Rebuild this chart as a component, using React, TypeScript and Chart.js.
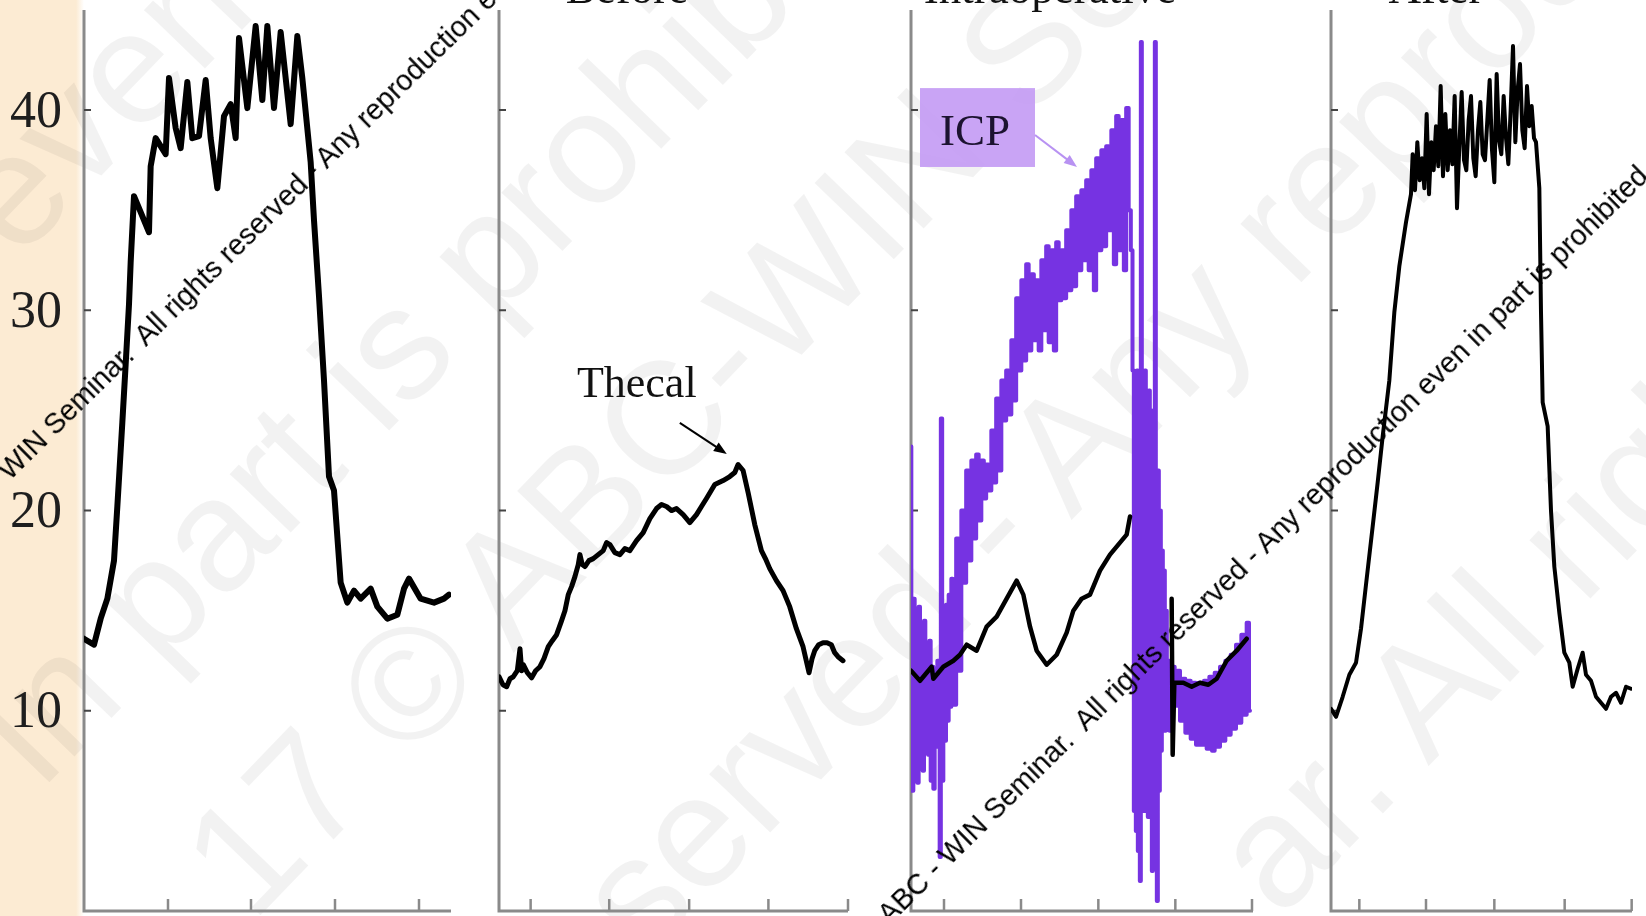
import React, { useEffect, useRef } from "react";
import { Chart, registerables } from "chart.js";

Chart.register(...registerables);

type Pt = [number, number | null];

// ---------- shared axis data ----------
const Y_MIN = 0;
const Y_MAX = 45;
const Y_TICKS = [10, 20, 30, 40];
const Y_TICK_LABELS = ["10", "20", "30", "40"];
const PANEL_TITLES = ["", "Before", "Intraoperative", "After"];

// x tick positions (time samples) for each panel
const X_TICKS_P1 = [252, 501, 753, 1005];
const X_TICKS_P2 = [95, 331, 571, 809, 1048];
const X_TICKS_P3 = [99, 330, 562, 793, 1023];
const X_TICKS_P4 = [85, 285, 490, 701, 902];
const X_MAX = [1101, 1048, 1026, 903];

// ---------- series (time sample, pressure) ----------
const pressurePanel1: Pt[] = [
  [0, 13.6], [30, 13.3], [50, 14.6], [70, 15.6], [90, 17.5], [100, 20.2], [115, 24.4], [125, 27.3],
  [135, 30.3], [140, 32.4], [150, 35.7], [165, 35.1], [195, 33.9], [200, 37.2], [215, 38.6], [245, 37.8],
  [255, 41.6], [275, 39.1], [290, 38.1], [310, 41.4], [325, 38.6], [345, 38.7], [365, 41.5], [380, 38.6],
  [400, 36.1], [420, 39.7], [440, 40.3], [455, 38.6], [465, 43.6], [490, 40.1], [515, 44.2], [535, 40.5],
  [550, 44.2], [570, 40.1], [590, 43.9], [620, 39.3], [640, 43.7], [655, 41.6], [680, 37.4], [690, 34.5],
  [705, 30.7], [720, 26.5], [735, 21.7], [750, 21.0], [770, 16.4], [790, 15.4], [810, 16.0], [830, 15.6],
  [860, 16.1], [880, 15.2], [910, 14.6], [940, 14.8], [960, 16.1], [975, 16.6], [1010, 15.6], [1050, 15.4],
  [1080, 15.6], [1095, 15.8],
];

const thecalBefore: Pt[] = [
  [0, 11.7], [12, 11.3], [23, 11.2], [33, 11.6], [43, 11.7], [55, 12.0], [63, 13.1], [68, 12.0], [73, 12.3],
  [85, 11.9], [98, 11.65], [110, 12.0], [123, 12.2], [135, 12.6], [148, 13.2], [160, 13.5], [173, 13.8],
  [188, 14.5], [198, 15.0], [208, 15.8], [218, 16.2], [228, 16.7], [238, 17.3], [243, 17.8], [250, 17.3],
  [258, 17.2], [270, 17.5], [283, 17.6], [298, 17.8], [313, 18.0], [323, 18.4], [333, 18.3], [348, 17.9],
  [363, 17.8], [378, 18.1], [393, 18.0], [413, 18.5], [433, 18.9], [453, 19.6], [473, 20.1], [488, 20.3],
  [503, 20.2], [518, 20.0], [533, 20.1], [553, 19.8], [573, 19.4], [593, 19.8], [608, 20.2], [623, 20.6],
  [648, 21.3], [673, 21.5], [693, 21.7], [708, 21.9], [718, 22.3], [733, 22.0], [748, 20.9], [768, 19.3],
  [788, 18.0], [800, 17.6], [813, 17.1], [833, 16.5], [853, 16.0], [873, 15.2], [893, 14.1], [913, 13.2],
  [931, 11.9], [940, 12.6], [948, 13.0], [960, 13.3], [973, 13.4], [985, 13.4], [998, 13.3], [1008, 12.9],
  [1018, 12.7], [1033, 12.5],
];

const thecalIntraop: Pt[] = [
  [0, 12.0], [27, 11.5], [62, 12.2], [67, 11.6], [97, 12.2], [127, 12.5], [147, 12.8], [167, 13.3],
  [197, 13.0], [227, 14.2], [257, 14.7], [287, 15.6], [317, 16.5], [337, 15.8], [357, 14.2], [377, 13.0],
  [407, 12.3], [437, 12.8], [467, 13.9], [487, 15.0], [512, 15.6], [537, 15.8], [567, 17.0], [597, 17.8],
  [627, 18.4], [647, 18.8], [657, 19.7], [667, null], [780, null], [782, 15.6], [785, 7.8], [790, 11.4],
  [817, 11.4], [842, 11.2], [867, 11.4], [892, 11.3], [917, 11.6], [947, 12.5], [977, 13.0], [1007, 13.6],
];

const icpIntraop: Pt[] = [
  [0, 23.2], [2, 9], [5, 6], [9, 15.6], [13, 7.5], [17, 14.8], [21, 6.4], [25, 15.2], [29, 8], [33, 13.9],
  [37, 7], [41, 14.5], [45, 9.5], [49, 12.8], [53, 7.8], [57, 13.5], [61, 6.5], [65, 12.2], [69, 6.1],
  [73, 11.8], [77, 8.2], [81, 12.5], [85, 9], [87, 2.7], [92, 24.6], [95, 6.5], [99, 14.2], [103, 8.5],
  [107, 15.3], [111, 9.5], [115, 15.8], [119, 10.2], [123, 16.6], [127, 11],
  [132, 10.3], [139, 18.6], [147, 12], [155, 20], [162, 16.4], [169, 22], [177, 17.5], [185, 22.5],
  [192, 18.6], [199, 22.8], [207, 19.5], [215, 22.5], [222, 20.6], [229, 22.3], [237, 21], [245, 24],
  [252, 21.4], [259, 25.6], [267, 22], [275, 26.5], [282, 24.5], [289, 27], [297, 24.8], [305, 28.5],
  [312, 25.5], [319, 30.6], [327, 27], [335, 31.5], [342, 27.5], [349, 32.3], [357, 28], [365, 31.8],
  [372, 28.5], [379, 31.5], [387, 28], [395, 32.5], [402, 29], [409, 33.2], [417, 28.4], [425, 33],
  [432, 28], [439, 33.4], [447, 30.5], [455, 33], [462, 30.6], [469, 34], [477, 31], [485, 35],
  [492, 31.2], [499, 35.7], [507, 32], [515, 36], [522, 32.5], [529, 36.5], [537, 32], [545, 37],
  [552, 31], [559, 37.6], [567, 33], [575, 38], [582, 33.2], [589, 38.2], [597, 34], [605, 39],
  [612, 32.3], [619, 39.7], [627, 33], [635, 39.5], [642, 32], [649, 40.1], [657, 35], [662, 33],
  [667, 27], [670, 5], [673, 26], [676, 4], [679, 27], [682, 3], [685, 25], [688, 1.5], [691, 43.4],
  [694, 5], [697, 26], [700, 6], [703, 27], [706, 5], [709, 25], [712, 4.7], [715, 26], [718, 6],
  [721, 24], [724, 2], [727, 25], [730, 6], [733, 43.4], [736, 3], [739, 0.5], [742, 22], [745, 6],
  [748, 20], [751, 8], [754, 18], [757, 9], [760, 17], [763, 9], [766, 15], [769, 10],
  [772, 12.5], [779, 9], [787, 12.2], [795, 10.25], [803, 12], [811, 9.5], [819, 11.6], [827, 8.9],
  [835, 11.5], [843, 8.6], [851, 11.4], [859, 8.3], [867, 11.4], [875, 8.3], [883, 11.5], [891, 8.1],
  [899, 11.7], [907, 8.0], [915, 11.9], [923, 8.2], [931, 12.2], [939, 8.5], [947, 12.5], [955, 8.8],
  [963, 12.8], [971, 9.1], [979, 13.3], [987, 9.4], [995, 13.8], [1003, 9.8], [1011, 14.4], [1017, 10],
];

const pressureAfter: Pt[] = [
  [0, 10.1], [15, 9.7], [35, 10.7], [55, 11.8], [75, 12.4], [90, 14.1], [105, 16.3], [125, 19.2],
  [140, 21.4], [155, 23.7], [175, 26.5], [190, 29.9], [205, 32.2], [225, 34.4], [240, 35.8],
  [245, 37.8], [252, 36.0], [259, 38.4], [266, 36.5], [273, 37.6], [280, 36.1], [287, 39.8], [294, 35.8],
  [301, 38.4], [308, 37.0], [315, 39.2], [322, 37.2], [329, 41.2], [336, 36.7], [343, 39.8], [350, 37.0],
  [357, 39.0], [364, 37.3], [371, 40.7], [378, 35.1], [385, 38.2], [392, 40.9], [399, 37.5], [406, 37.0],
  [413, 39.5], [420, 40.7], [427, 37.6], [434, 36.7], [441, 39.0], [448, 40.4], [455, 37.8], [462, 37.5],
  [469, 39.5], [476, 41.5], [483, 38.0], [490, 36.4], [497, 41.8], [504, 38.5], [511, 37.8], [518, 40.7],
  [525, 38.6], [532, 37.3], [539, 40.0], [546, 43.2], [553, 38.4], [560, 41.0], [567, 42.3], [574, 39.0],
  [581, 38.1], [588, 41.2], [595, 39.2], [602, 40.2], [609, 38.6], [615, 38.4],
  [625, 36.1], [630, 29.9], [635, 25.4], [650, 24.2], [660, 20.0], [670, 17.2], [685, 14.9], [700, 12.9],
  [715, 12.4], [725, 11.2], [740, 12.1], [755, 12.9], [765, 11.8], [780, 11.5], [795, 10.7], [810, 10.4],
  [825, 10.1], [840, 10.7], [855, 10.9], [870, 10.4], [885, 11.2], [900, 11.1],
];

// ---------- annotation content ----------
const THECAL_LABEL = "Thecal";
const ICP_LABEL = "ICP";
const WATERMARK = "ABC - WIN Seminar.  All rights reserved - Any reproduction even in part is prohibited";
const BIG_WATERMARK_LINES = [
  "even in part is prohibited",
  "in part is prohibited",
  "17 © ABC-WIN Seminar. All rights reserved",
  "served - Any reproduction even in part",
  "ar. All rights reserved - Any",
];

// ---------- layout / style ----------
const PAGE_W = 1646;
const PAGE_H = 916;
const AREA_TOP = 10;
const AREA_BOTTOM = 911;
const SERIF = "'Liberation Serif', 'Times New Roman', serif";
const BLACK = "#000000";
const PURPLE = "#7633e2";
const BIG_WM_STARTS = [
  { x: 18, y: 262 },
  { x: 42, y: 790 },
  { x: 252, y: 924 },
  { x: 645, y: 962 },
  { x: 1280, y: 920 },
];

type Series = { data: Pt[]; color: string; width: number; stepped?: boolean };
type Annot =
  | { kind: "text"; text: string; x: number; y: number; size: number; color: string }
  | { kind: "arrow"; x1: number; y1: number; x2: number; y2: number; color: string; width: number }
  | { kind: "box"; x1: number; y1: number; x2: number; y2: number; color: string };

type PanelCfg = {
  left: number;
  right: number;
  xMax: number;
  xTicks: number[];
  series: Series[];
  yLabels: boolean;
  title: string;
  titleCenter: number;
  annotations: Annot[];
};

const PANELS: PanelCfg[] = [
  {
    left: 84, right: 451, xMax: X_MAX[0], xTicks: X_TICKS_P1,
    series: [{ data: pressurePanel1, color: BLACK, width: 6 }],
    yLabels: true, title: PANEL_TITLES[0], titleCenter: 0, annotations: [],
  },
  {
    left: 499, right: 848, xMax: X_MAX[1], xTicks: X_TICKS_P2,
    series: [{ data: thecalBefore, color: BLACK, width: 5 }],
    yLabels: false, title: PANEL_TITLES[1], titleCenter: 627,
    annotations: [
      { kind: "text", text: THECAL_LABEL, x: 234, y: 25.67, size: 44, color: "#111" },
      { kind: "arrow", x1: 543, y1: 24.38, x2: 684, y2: 22.83, color: "#000", width: 2 },
    ],
  },
  {
    left: 911, right: 1253, xMax: X_MAX[2], xTicks: X_TICKS_P3,
    series: [
      { data: thecalIntraop, color: BLACK, width: 4.5 },
      { data: icpIntraop, color: PURPLE, width: 4, stepped: true },
    ],
    yLabels: false, title: PANEL_TITLES[2], titleCenter: 1050,
    annotations: [
      { kind: "box", x1: 27, y1: 41.1, x2: 372, y2: 37.16, color: "rgba(196,156,244,0.92)" },
      { kind: "text", text: ICP_LABEL, x: 87, y: 38.26, size: 45, color: "#1c1330" },
      { kind: "arrow", x1: 372, y1: 38.76, x2: 498, y2: 37.16, color: "#b892f2", width: 2 },
    ],
  },
  {
    left: 1331, right: 1632, xMax: X_MAX[3], xTicks: X_TICKS_P4,
    series: [{ data: pressureAfter, color: BLACK, width: 4 }],
    yLabels: false, title: PANEL_TITLES[3], titleCenter: 1436, annotations: [],
  },
];

function drawArrow(ctx: CanvasRenderingContext2D, x1: number, y1: number, x2: number, y2: number, color: string, width: number) {
  const ang = Math.atan2(y2 - y1, x2 - x1);
  const head = 13;
  const hw = 5;
  ctx.strokeStyle = color;
  ctx.fillStyle = color;
  ctx.lineWidth = width;
  ctx.beginPath();
  ctx.moveTo(x1, y1);
  ctx.lineTo(x2 - Math.cos(ang) * head * 0.8, y2 - Math.sin(ang) * head * 0.8);
  ctx.stroke();
  ctx.beginPath();
  ctx.moveTo(x2, y2);
  ctx.lineTo(x2 - Math.cos(ang) * head - Math.sin(ang) * hw, y2 - Math.sin(ang) * head + Math.cos(ang) * hw);
  ctx.lineTo(x2 - Math.cos(ang) * head + Math.sin(ang) * hw, y2 - Math.sin(ang) * head - Math.cos(ang) * hw);
  ctx.closePath();
  ctx.fill();
}

function makeDecor(cfg: PanelCfg) {
  return {
    id: "panelDecor",
    beforeDatasetsDraw(chart: any) {
      const { ctx, chartArea: a } = chart;
      const xs = chart.scales.x;
      const ys = chart.scales.y;
      ctx.save();
      ctx.strokeStyle = "#8a8a8a";
      ctx.lineWidth = 3;
      ctx.beginPath();
      ctx.moveTo(a.left, a.top);
      ctx.lineTo(a.left, a.bottom);
      ctx.lineTo(a.right, a.bottom);
      ctx.stroke();
      ctx.lineWidth = 2.5;
      ctx.beginPath();
      for (const t of cfg.xTicks) {
        const px = xs.getPixelForValue(t);
        ctx.moveTo(px, a.bottom);
        ctx.lineTo(px, a.bottom - 12);
      }
      ctx.stroke();
      ctx.strokeStyle = "#444";
      ctx.lineWidth = 2;
      ctx.beginPath();
      for (const v of Y_TICKS) {
        const py = ys.getPixelForValue(v);
        ctx.moveTo(a.left, py);
        ctx.lineTo(a.left + 7, py);
      }
      ctx.stroke();
      if (cfg.yLabels) {
        ctx.fillStyle = "#1e1e1e";
        ctx.font = `52px ${SERIF}`;
        ctx.textAlign = "right";
        ctx.textBaseline = "middle";
        Y_TICKS.forEach((v, i) => {
          ctx.fillText(Y_TICK_LABELS[i], a.left - 22, ys.getPixelForValue(v) + 3);
        });
      }
      ctx.restore();
    },
    afterDatasetsDraw(chart: any) {
      const { ctx } = chart;
      const xs = chart.scales.x;
      const ys = chart.scales.y;
      ctx.save();
      for (const an of cfg.annotations) {
        if (an.kind === "box") {
          const x1 = xs.getPixelForValue(an.x1);
          const x2 = xs.getPixelForValue(an.x2);
          const y1 = ys.getPixelForValue(an.y1);
          const y2 = ys.getPixelForValue(an.y2);
          ctx.fillStyle = an.color;
          ctx.fillRect(x1, y1, x2 - x1, y2 - y1);
        } else if (an.kind === "text") {
          ctx.fillStyle = an.color;
          ctx.font = `${an.size}px ${SERIF}`;
          ctx.textAlign = "left";
          ctx.textBaseline = "alphabetic";
          ctx.fillText(an.text, xs.getPixelForValue(an.x), ys.getPixelForValue(an.y));
        } else {
          drawArrow(
            ctx,
            xs.getPixelForValue(an.x1), ys.getPixelForValue(an.y1),
            xs.getPixelForValue(an.x2), ys.getPixelForValue(an.y2),
            an.color, an.width
          );
        }
      }
      ctx.restore();
    },
  };
}

function Panel({ cfg, index }: { cfg: PanelCfg; index: number }) {
  const ref = useRef<HTMLCanvasElement | null>(null);
  const padL = index === 0 ? cfg.left : 16;
  const padR = 16;
  const canvasLeft = cfg.left - padL;
  const width = cfg.right - cfg.left + padL + padR;

  useEffect(() => {
    if (!ref.current) return;
    const chart = new Chart(ref.current, {
      type: "line",
      data: {
        datasets: cfg.series.map((s) => ({
          data: s.data.map(([x, y]) => ({ x, y })),
          borderColor: s.color,
          borderWidth: s.width,
          pointRadius: 0,
          tension: 0,
          stepped: s.stepped ? "middle" : false,
          spanGaps: false,
          borderJoinStyle: "round",
          borderCapStyle: "round",
          fill: false,
        })),
      } as any,
      options: {
        responsive: false,
        animation: false,
        events: [],
        layout: { padding: { left: padL, right: padR, top: AREA_TOP, bottom: PAGE_H - AREA_BOTTOM } },
        scales: {
          x: { type: "linear", min: 0, max: cfg.xMax, display: false },
          y: { type: "linear", min: Y_MIN, max: Y_MAX, display: false },
        },
        plugins: { legend: { display: false }, tooltip: { enabled: false } },
      },
      plugins: [makeDecor(cfg) as any],
    });
    return () => chart.destroy();
  }, []);

  return (
    <canvas
      ref={ref}
      width={width}
      height={PAGE_H}
      style={{ position: "absolute", left: canvasLeft, top: 0, width, height: PAGE_H }}
    />
  );
}

export default function App() {
  return (
    <div
      style={{
        position: "absolute",
        left: 0,
        top: 0,
        width: PAGE_W,
        height: PAGE_H,
        overflow: "hidden",
        background: "#ffffff",
      }}
    >
      <div
        style={{
          position: "absolute",
          left: 0,
          top: 0,
          width: 84,
          height: PAGE_H,
          background: "linear-gradient(to right, #fcebd3 0px, #fcebd3 76px, #ffffff 84px)",
        }}
      />
      {BIG_WATERMARK_LINES.map((t, i) => (
        <div
          key={"bw" + i}
          style={{
            position: "absolute",
            left: BIG_WM_STARTS[i].x,
            top: BIG_WM_STARTS[i].y,
            transformOrigin: "0 0",
            transform: "rotate(-46deg) translate(0px, -135px)",
            fontFamily: "'Liberation Sans', Arial, sans-serif",
            fontSize: 160,
            lineHeight: "160px",
            color: "rgba(0,0,0,0.05)",
            whiteSpace: "pre",
            pointerEvents: "none",
          }}
        >
          {t}
        </div>
      ))}
      {PANELS.map((p, i) => (
        <Panel key={i} cfg={p} index={i} />
      ))}
      {PANELS.filter((p) => p.title).map((p, i) => (
        <div
          key={"t" + i}
          style={{
            position: "absolute",
            left: p.titleCenter,
            top: -34,
            transform: "translateX(-50%)",
            fontFamily: SERIF,
            fontSize: 45,
            lineHeight: "45px",
            color: "#111",
            whiteSpace: "nowrap",
          }}
        >
          {p.title}
        </div>
      ))}
      {[
        { cx: 1263, cy: 545 },
        { cx: 323, cy: 160 },
      ].map((w, i) => (
        <div
          key={"w" + i}
          style={{
            position: "absolute",
            left: w.cx,
            top: w.cy,
            transform: "translate(-50%, -50%) rotate(-44.5deg)",
            fontFamily: "'Liberation Sans', Arial, sans-serif",
            fontSize: 28.7,
            color: "#000",
            whiteSpace: "pre",
            pointerEvents: "none",
          }}
        >
          {WATERMARK}
        </div>
      ))}
    </div>
  );
}
